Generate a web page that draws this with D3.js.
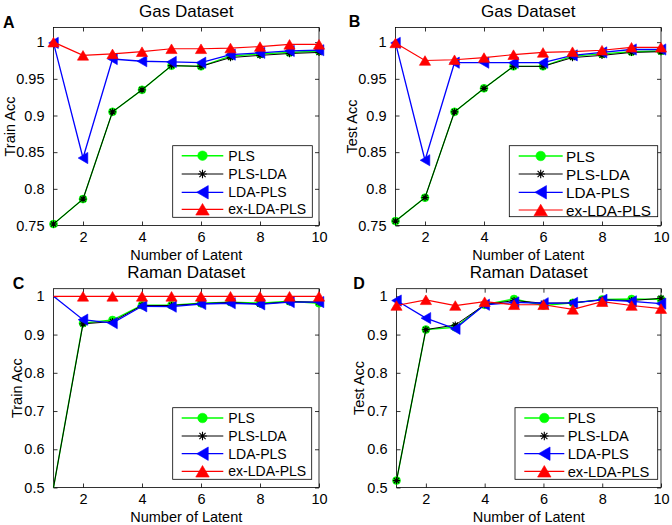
<!DOCTYPE html>
<html>
<head>
<meta charset="utf-8">
<script src="https://cdn.jsdelivr.net/npm/d3@7"></script>
<style>
  html, body { margin: 0; padding: 0; background: #fff; }
  svg { display: block; font-family: "Liberation Sans", Arial, Helvetica, sans-serif; }
</style>
</head>
<body>
<svg id="chart" width="672" height="525"></svg>
<script>
// ---------------- DATA ----------------
const latent = [1, 2, 3, 4, 5, 6, 7, 8, 9, 10];
const seriesNames = ["PLS", "PLS-LDA", "LDA-PLS", "ex-LDA-PLS"];

const xTicks = [2, 4, 6, 8, 10];
const xTickLabels = ["2", "4", "6", "8", "10"];
const gasYTicks = [0.75, 0.8, 0.85, 0.9, 0.95, 1];
const gasYTickLabels = ["0.75", "0.8", "0.85", "0.9", "0.95", "1"];
const ramanYTicks = [0.5, 0.6, 0.7, 0.8, 0.9, 1];
const ramanYTickLabels = ["0.5", "0.6", "0.7", "0.8", "0.9", "1"];

// A: Gas Dataset, Train Acc
const gasTrainPLS      = [0.752, 0.786, 0.905, 0.935, 0.968, 0.967, 0.981, 0.984, 0.986, 0.988];
const gasTrainPLSLDA   = [0.752, 0.786, 0.905, 0.935, 0.968, 0.967, 0.979, 0.982, 0.9845, 0.986];
const gasTrainLDAPLS   = [0.999, 0.842, 0.977, 0.974, 0.973, 0.972, 0.983, 0.9855, 0.988, 0.989];
const gasTrainExLDAPLS = [1.000, 0.982, 0.984, 0.987, 0.991, 0.991, 0.992, 0.994, 0.997, 0.997];

// B: Gas Dataset, Test Acc
const gasTestPLS      = [0.756, 0.788, 0.905, 0.937, 0.967, 0.967, 0.981, 0.984, 0.987, 0.988];
const gasTestPLSLDA   = [0.756, 0.788, 0.905, 0.937, 0.967, 0.967, 0.979, 0.982, 0.986, 0.987];
const gasTestLDAPLS   = [0.999, 0.839, 0.972, 0.972, 0.972, 0.972, 0.982, 0.986, 0.990, 0.990];
const gasTestExLDAPLS = [0.999, 0.975, 0.976, 0.979, 0.983, 0.986, 0.987, 0.989, 0.993, 0.993];

// C: Raman Dataset, Train Acc
const ramanTrainPLS      = [0.500, 0.930, 0.938, 0.977, 0.977, 0.982, 0.985, 0.982, 0.987, 0.982];
const ramanTrainPLSLDA   = [0.500, 0.928, 0.934, 0.976, 0.976, 0.981, 0.984, 0.980, 0.986, 0.985];
const ramanTrainLDAPLS   = [1.000, 0.939, 0.930, 0.974, 0.973, 0.980, 0.982, 0.979, 0.985, 0.985];
const ramanTrainExLDAPLS = [1.000, 1.000, 1.000, 1.000, 1.000, 1.000, 1.000, 1.000, 1.000, 1.000];

// D: Raman Dataset, Test Acc
const ramanTestPLS      = [0.518, 0.913, 0.919, 0.978, 0.993, 0.976, 0.983, 0.992, 0.993, 0.992];
const ramanTestPLSLDA   = [0.518, 0.913, 0.925, 0.978, 0.989, 0.982, 0.983, 0.991, 0.989, 0.995];
const ramanTestLDAPLS   = [0.989, 0.943, 0.915, 0.978, 0.984, 0.982, 0.983, 0.991, 0.987, 0.981];
const ramanTestExLDAPLS = [0.976, 0.991, 0.976, 0.986, 0.978, 0.978, 0.966, 0.986, 0.976, 0.968];

// ---------------- STYLE ----------------
const styles = [
  { color: "#00ff00", marker: "circle",   width: 1.4 },
  { color: "#000000", marker: "asterisk", width: 1.0 },
  { color: "#0000ff", marker: "tleft",    width: 1.3 },
  { color: "#ff0000", marker: "tup",      width: 1.2 }
];

const panels = [
  { letter: "A", title: "Gas Dataset", ylabel: "Train Acc",
    series: [gasTrainPLS, gasTrainPLSLDA, gasTrainLDAPLS, gasTrainExLDAPLS],
    yTicks: gasYTicks, yTickLabels: gasYTickLabels, yDomain: [0.75, 1.02],
    px0: 53.5, px1: 319, py0: 27.5, py1: 225.5, hideFirst: false,
    letterX: 3, letterY: 28.3, titleY: 16.5, ylabelX: 15,
    lg: { x: 172.7, y: 145.7, w: 139.6, h: 71.6, rows: [155.7, 174, 192.3, 209.3], l0: 181.7, l1: 223.3, tx: 228.3, fs: 14 } },
  { letter: "B", title: "Gas Dataset", ylabel: "Test Acc",
    series: [gasTestPLS, gasTestPLSLDA, gasTestLDAPLS, gasTestExLDAPLS],
    yTicks: gasYTicks, yTickLabels: gasYTickLabels, yDomain: [0.75, 1.02],
    px0: 395.5, px1: 661, py0: 27.5, py1: 225.5, hideFirst: false,
    letterX: 348.7, letterY: 27, titleY: 16.7, ylabelX: 357,
    lg: { x: 509.3, y: 145.7, w: 148.4, h: 71, rows: [156, 174, 192.3, 210], l0: 518.7, l1: 562.7, tx: 566, fs: 15.3 } },
  { letter: "C", title: "Raman Dataset", ylabel: "Train Acc",
    series: [ramanTrainPLS, ramanTrainPLSLDA, ramanTrainLDAPLS, ramanTrainExLDAPLS],
    yTicks: ramanYTicks, yTickLabels: ramanYTickLabels, yDomain: [0.5, 1.02],
    px0: 53.5, px1: 319, py0: 288.7, py1: 487.5, hideFirst: true,
    letterX: 12.7, letterY: 288.7, titleY: 278, ylabelX: 21.7,
    lg: { x: 172.7, y: 407.7, w: 139, h: 71.6, rows: [418, 436, 453.7, 471.3], l0: 181.7, l1: 223.3, tx: 228.3, fs: 14 } },
  { letter: "D", title: "Raman Dataset", ylabel: "Test Acc",
    series: [ramanTestPLS, ramanTestPLSLDA, ramanTestLDAPLS, ramanTestExLDAPLS],
    yTicks: ramanYTicks, yTickLabels: ramanYTickLabels, yDomain: [0.5, 1.02],
    px0: 396.5, px1: 661, py0: 288.7, py1: 487.5, hideFirst: false,
    letterX: 353.3, letterY: 288.7, titleY: 278, ylabelX: 364,
    lg: { x: 515, y: 407.7, w: 142.7, h: 71.6, rows: [418, 436, 453.7, 471.3], l0: 524.3, l1: 564.3, tx: 567.7, fs: 14.7 } }
];

const svg = d3.select("#chart");

function drawMarker(g, type, color, cx, cy, s) {
  if (type === "circle") {
    g.append("circle").attr("cx", cx).attr("cy", cy).attr("r", 4 * s)
      .attr("fill", color).attr("stroke", color).attr("stroke-width", 0.5);
  } else if (type === "asterisk") {
    const r = 3.6 * s, d = r * 0.72;
    const p = `M${cx - r},${cy}L${cx + r},${cy}M${cx},${cy - r}L${cx},${cy + r}` +
              `M${cx - d},${cy - d}L${cx + d},${cy + d}M${cx - d},${cy + d}L${cx + d},${cy - d}`;
    g.append("path").attr("d", p).attr("stroke", color).attr("stroke-width", 1.1).attr("fill", "none");
  } else if (type === "tleft") {
    const w = 4.8 * s, h = 5.6 * s;
    g.append("path").attr("d", `M${cx - w},${cy}L${cx + w},${cy - h}L${cx + w},${cy + h}Z`)
      .attr("fill", color).attr("stroke", color).attr("stroke-width", 0.6);
  } else if (type === "tup") {
    const w = 5.6 * s, h = 4.8 * s;
    g.append("path").attr("d", `M${cx},${cy - h}L${cx + w},${cy + h}L${cx - w},${cy + h}Z`)
      .attr("fill", color).attr("stroke", color).attr("stroke-width", 0.6);
  }
}

panels.forEach(p => {
  const x = d3.scaleLinear().domain([1, 10]).range([p.px0, p.px1]);
  const y = d3.scaleLinear().domain(p.yDomain).range([p.py1, p.py0]);
  const g = svg.append("g");

  // axes box
  g.append("rect").attr("x", p.px0).attr("y", p.py0)
    .attr("width", p.px1 - p.px0).attr("height", p.py1 - p.py0)
    .attr("fill", "#fff").attr("stroke", "#000").attr("stroke-width", 0.8);

  // bottom axis (labels), inward ticks
  const xb = d3.axisBottom(x).tickValues(xTicks).tickFormat((d, i) => xTickLabels[i])
    .tickSizeInner(-4).tickSizeOuter(0).tickPadding(6.5);
  const gx = g.append("g").attr("transform", `translate(0,${p.py1})`).call(xb);
  gx.select(".domain").remove();
  gx.selectAll("text").attr("font-size", 14.5).attr("fill", "#000")
    .attr("font-family", "Liberation Sans, Arial, sans-serif");
  gx.selectAll("line").attr("stroke", "#000").attr("stroke-width", 0.8);
  // top ticks
  const xt = d3.axisTop(x).tickValues(xTicks).tickFormat("").tickSizeInner(-4).tickSizeOuter(0);
  const gxt = g.append("g").attr("transform", `translate(0,${p.py0})`).call(xt);
  gxt.select(".domain").remove();
  gxt.selectAll("line").attr("stroke", "#000").attr("stroke-width", 0.8);

  // left axis
  const yl = d3.axisLeft(y).tickValues(p.yTicks).tickFormat((d, i) => p.yTickLabels[i])
    .tickSizeInner(-4).tickSizeOuter(0).tickPadding(9);
  const gy = g.append("g").attr("transform", `translate(${p.px0},0)`).call(yl);
  gy.select(".domain").remove();
  gy.selectAll("text").attr("font-size", 14.5).attr("fill", "#000")
    .attr("font-family", "Liberation Sans, Arial, sans-serif");
  gy.selectAll("line").attr("stroke", "#000").attr("stroke-width", 0.8);
  const yr = d3.axisRight(y).tickValues(p.yTicks).tickFormat("").tickSizeInner(-4).tickSizeOuter(0);
  const gyr = g.append("g").attr("transform", `translate(${p.px1},0)`).call(yr);
  gyr.select(".domain").remove();
  gyr.selectAll("line").attr("stroke", "#000").attr("stroke-width", 0.8);

  // series
  const line = d3.line().x((d, i) => x(latent[i])).y(d => y(d));
  p.series.forEach((vals, si) => {
    const st = styles[si];
    const sg = g.append("g");
    sg.append("path").datum(vals).attr("d", line)
      .attr("fill", "none").attr("stroke", st.color).attr("stroke-width", st.width);
    vals.forEach((v, i) => {
      if (p.hideFirst && i === 0) return;
      drawMarker(sg, st.marker, st.color, x(latent[i]), y(v), 1);
    });
  });

  // title
  g.append("text").attr("x", (p.px0 + p.px1) / 2).attr("y", p.titleY)
    .attr("text-anchor", "middle").attr("font-size", 17).text(p.title);
  // panel letter
  g.append("text").attr("x", p.letterX).attr("y", p.letterY)
    .attr("font-size", 16).attr("font-weight", "bold").text(p.letter);
  // x label
  g.append("text").attr("x", (p.px0 + p.px1) / 2).attr("y", p.py1 + 34)
    .attr("text-anchor", "middle").attr("font-size", 14.5).text("Number of Latent");
  // y label
  g.append("text")
    .attr("transform", `translate(${p.ylabelX},${(p.py0 + p.py1) / 2}) rotate(-90)`)
    .attr("text-anchor", "middle").attr("font-size", 14.5).text(p.ylabel);

  // legend
  const L = p.lg;
  const lg = g.append("g");
  lg.append("rect").attr("x", L.x).attr("y", L.y).attr("width", L.w).attr("height", L.h)
    .attr("fill", "#fff").attr("stroke", "#000").attr("stroke-width", 0.8);
  seriesNames.forEach((name, si) => {
    const st = styles[si];
    const ry = L.rows[si];
    lg.append("line").attr("x1", L.l0).attr("x2", L.l1).attr("y1", ry).attr("y2", ry)
      .attr("stroke", st.color).attr("stroke-width", st.width);
    drawMarker(lg, st.marker, st.color, (L.l0 + L.l1) / 2, ry, 1.2);
    lg.append("text").attr("x", L.tx).attr("y", ry + L.fs * 0.36)
      .attr("font-size", L.fs).text(name);
  });
});
</script>
</body>
</html>
